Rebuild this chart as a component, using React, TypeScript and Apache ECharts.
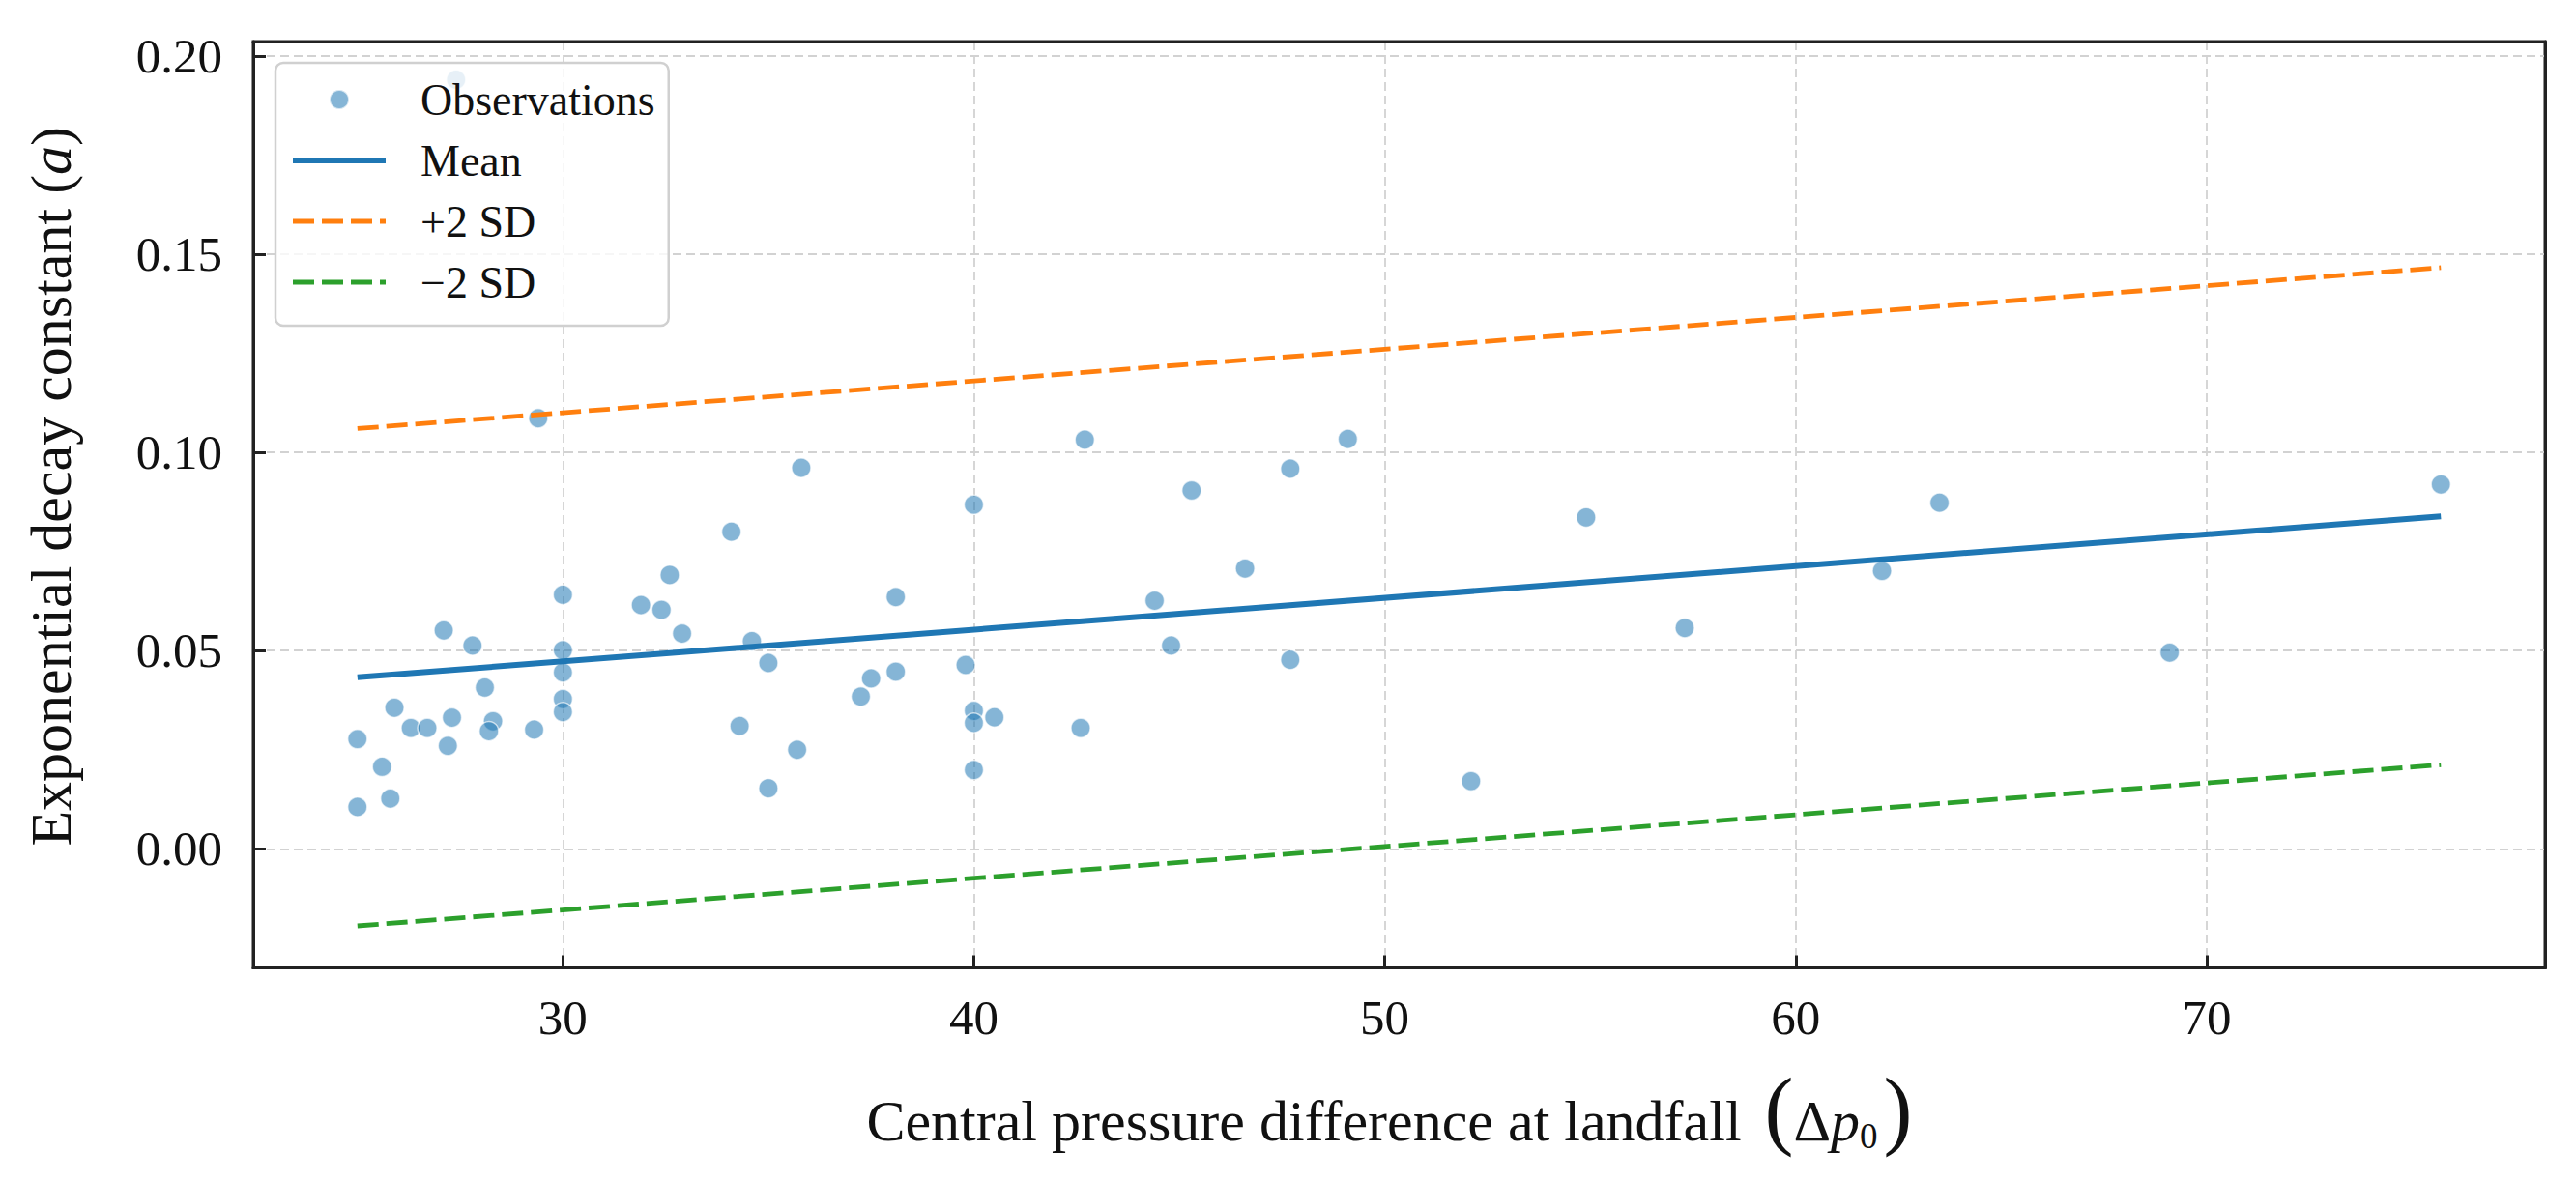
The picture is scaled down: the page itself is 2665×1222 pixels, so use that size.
import React, { useEffect, useRef } from "react";
import * as echarts from "echarts";

// ---- data ----
const obsX = [
  27.4, 29.4, 35.8, 34.1, 32.6, 30.0, 31.9, 32.4, 38.1, 27.1,
  27.8, 32.9, 34.6, 30.0, 35.0, 30.0, 38.1, 37.5, 37.25, 28.1,
  30.0, 30.0, 25.9, 27.3, 26.3, 26.7, 28.3, 28.2, 29.3, 34.3,
  25.0, 27.2, 35.7, 25.6, 25.8, 25.0, 35.0, 42.7, 49.1, 47.7,
  45.3, 40.0, 46.6, 44.4, 44.8, 39.8, 47.7, 40.0, 40.0, 40.5,
  42.6, 40.0, 52.1, 54.9, 57.3, 63.5, 62.1, 69.1, 75.7,
];
const obsY = [
  0.194, 0.1086, 0.0961, 0.08, 0.0691, 0.0641, 0.0615, 0.0603, 0.0635, 0.0551,
  0.0513, 0.0543, 0.0524, 0.0501, 0.0469, 0.0445, 0.0447, 0.043, 0.0384, 0.0407,
  0.0378, 0.0345, 0.0356, 0.0331, 0.0305, 0.0305, 0.0322, 0.0297, 0.0301, 0.031,
  0.0277, 0.026, 0.025, 0.0207, 0.0127, 0.0106, 0.0153, 0.1032, 0.1034, 0.0959,
  0.0904, 0.0868, 0.0707, 0.0626, 0.0513, 0.0464, 0.0477, 0.0348, 0.0318, 0.0332,
  0.0305, 0.0199, 0.0171, 0.0836, 0.0557, 0.0873, 0.0701, 0.0495, 0.0919,
];
const lineX = [25.0, 75.7];
const meanY = [0.0433, 0.0839];
const upperY = [0.106, 0.1466];
const lowerY = [-0.0194, 0.0212];

const xTicks = [30, 40, 50, 60, 70];
const yTicks = [0.0, 0.05, 0.1, 0.15, 0.2];
const xRange = [22.465, 78.235];
const yRange = [-0.03, 0.2036];
const legendLabels = ["Observations", "Mean", "+2 SD", "\u22122 SD"];

const FONT = "'Liberation Serif', 'Times New Roman', serif";
const FRAME = { show: true, onZero: false, lineStyle: { color: "#222", width: 3 } };

export default function App() {
  const ref = useRef<HTMLDivElement>(null);

  useEffect(() => {
    if (!ref.current) return;
    const chart = echarts.init(ref.current, undefined, { renderer: "svg" });

    const isTick = (ticks: number[], v: number) =>
      ticks.some((t) => Math.abs(t - v) < 1e-6);

    const gridLine = {
      show: true,
      showMinLine: false,
      showMaxLine: false,
      lineStyle: { color: "#d2d2d2", width: 1.8, type: [9, 5] as any },
    };

    const hiddenLine = { color: "rgba(0,0,0,0)", borderColor: "rgba(0,0,0,0)", borderWidth: 0, opacity: 0 };

    const option: any = {
      animation: false,
      backgroundColor: "#ffffff",
      grid: {
        left: 262,
        top: 43,
        width: 2371,
        height: 966,
        show: true,
        borderColor: "#222",
        borderWidth: 3,
        backgroundColor: "transparent",
      },
      legend: {
        orient: "vertical",
        left: 285,
        top: 65,
        z: 100,
        padding: [15, 14, 22, 15],
        itemGap: 17,
        itemWidth: 96,
        itemHeight: 20,
        selectedMode: false,
        backgroundColor: "rgba(255,255,255,0.8)",
        borderColor: "#d0d0d0",
        borderWidth: 2.5,
        borderRadius: 8,
        textStyle: {
          fontFamily: FONT,
          fontSize: 46,
          lineHeight: 46,
          color: "#111",
          padding: [0, 0, 0, 31],
        },
        data: [
          { name: legendLabels[0] },
          { name: legendLabels[1], itemStyle: hiddenLine, lineStyle: { width: 6, color: "#1f77b4" } },
          { name: legendLabels[2], itemStyle: hiddenLine, lineStyle: { width: 4.8, color: "#ff7f0e", type: [22, 8] } },
          { name: legendLabels[3], itemStyle: hiddenLine, lineStyle: { width: 4.8, color: "#2ca02c", type: [22, 8] } },
        ],
      },
      xAxis: [
        {
          type: "value",
          position: "bottom",
          min: xRange[0],
          max: xRange[1],
          minInterval: 10,
          maxInterval: 10,
          axisLine: FRAME,
          axisTick: { show: true, inside: true, length: 13, lineStyle: { color: "#222", width: 3 } },
          axisLabel: {
            margin: 26,
            fontFamily: FONT,
            fontSize: 51,
            color: "#111",
            showMinLabel: false,
            showMaxLabel: false,
            formatter: (v: number) => (isTick(xTicks, v) ? String(Math.round(v)) : ""),
          },
          splitLine: gridLine,
          name: "{t|Central pressure difference at landfall}{lp|(}{d|\u0394}{i|p}{s|0}{rp|)}",
          nameLocation: "middle",
          nameGap: 118,
          nameTextStyle: {
            fontFamily: FONT,
            fontSize: 60,
            color: "#111",
            padding: [0, 20, 0, 0],
            rich: {
              t: { fontFamily: FONT, fontSize: 60, lineHeight: 80, color: "#111" },
              lp: { fontFamily: FONT, fontSize: 90, lineHeight: 80, color: "#111", padding: [0, 0, 25, 24] },
              d: { fontFamily: FONT, fontSize: 60, lineHeight: 80, color: "#111" },
              i: { fontFamily: FONT, fontSize: 60, lineHeight: 80, fontStyle: "italic", color: "#111" },
              s: { fontFamily: FONT, fontSize: 37, lineHeight: 80, color: "#111", padding: [32, 0, 0, 0] },
              rp: { fontFamily: FONT, fontSize: 90, lineHeight: 80, color: "#111", padding: [0, 0, 25, 6] },
            },
          },
        },
        {
          type: "value",
          position: "top",
          min: xRange[0],
          max: xRange[1],
          axisLine: FRAME,
          axisTick: { show: false },
          axisLabel: { show: false },
          splitLine: { show: false },
        },
      ],
      yAxis: [
        {
          type: "value",
          position: "left",
          min: yRange[0],
          max: yRange[1],
          minInterval: 0.05,
          maxInterval: 0.05,
          axisLine: FRAME,
          axisTick: { show: true, inside: true, length: 13, lineStyle: { color: "#222", width: 3 } },
          axisLabel: {
            margin: 32,
            fontFamily: FONT,
            fontSize: 51,
            color: "#111",
            showMinLabel: false,
            showMaxLabel: false,
            formatter: (v: number) => (isTick(yTicks, v) ? Math.abs(v).toFixed(2) : ""),
          },
          splitLine: gridLine,
          name: "{t|Exponential decay constant (}{i|a}{t|)}",
          nameLocation: "middle",
          nameRotate: 90,
          nameGap: 179,
          nameTextStyle: {
            fontFamily: FONT,
            fontSize: 60,
            color: "#111",
            padding: [0, 0, 0, 38],
            rich: {
              t: { fontFamily: FONT, fontSize: 60, lineHeight: 60, color: "#111" },
              i: { fontFamily: FONT, fontSize: 60, lineHeight: 60, fontStyle: "italic", color: "#111" },
            },
          },
        },
        {
          type: "value",
          position: "right",
          min: yRange[0],
          max: yRange[1],
          axisLine: FRAME,
          axisTick: { show: false },
          axisLabel: { show: false },
          splitLine: { show: false },
        },
      ],
      series: [
        {
          type: "scatter",
          name: legendLabels[0],
          data: obsX.map((x, i) => [x, obsY[i]]),
          symbol: "circle",
          symbolSize: 20,
          z: 2,
          itemStyle: {
            color: "rgba(31,119,180,0.68)",
            borderColor: "rgba(255,255,255,0.8)",
            borderWidth: 1.5,
          },
          emphasis: { disabled: true },
          silent: true,
        },
        {
          type: "line",
          name: legendLabels[1],
          data: lineX.map((x, i) => [x, meanY[i]]),
          symbol: "none",
          showSymbol: false,
          z: 3,
          lineStyle: { color: "#1f77b4", width: 6 },
          itemStyle: { color: "#1f77b4" },
          emphasis: { disabled: true },
          silent: true,
        },
        {
          type: "line",
          name: legendLabels[2],
          data: lineX.map((x, i) => [x, upperY[i]]),
          symbol: "none",
          showSymbol: false,
          z: 3,
          lineStyle: { color: "#ff7f0e", width: 4.8, type: [22, 8] },
          itemStyle: { color: "#ff7f0e" },
          emphasis: { disabled: true },
          silent: true,
        },
        {
          type: "line",
          name: legendLabels[3],
          data: lineX.map((x, i) => [x, lowerY[i]]),
          symbol: "none",
          showSymbol: false,
          z: 3,
          lineStyle: { color: "#2ca02c", width: 4.8, type: [22, 8] },
          itemStyle: { color: "#2ca02c" },
          emphasis: { disabled: true },
          silent: true,
        },
      ],
    };

    chart.setOption(option);
    return () => chart.dispose();
  }, []);

  return (
    <div
      ref={ref}
      style={{ position: "fixed", left: 0, top: 0, width: 2665, height: 1222, background: "#fff" }}
    />
  );
}
